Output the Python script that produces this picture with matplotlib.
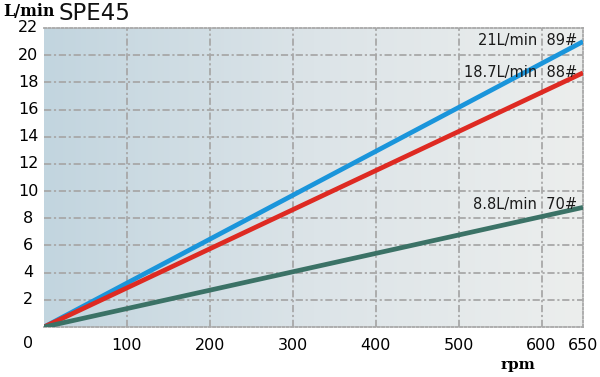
import numpy as np
import matplotlib
matplotlib.use("Agg")
import matplotlib.pyplot as plt
from matplotlib.colors import LinearSegmentedColormap

# Data
rpm = [0, 650]
flow_89 = [0, 21.0]
flow_88 = [0, 18.7]
flow_70 = [0, 8.8]
labels = ["21L/min  89#", "18.7L/min  88#", "8.8L/min  70#"]
colors = ["#1a95db", "#de2a22", "#3b7266"]
x_ticks = [100, 200, 300, 400, 500, 600, 650]
y_ticks = [2, 4, 6, 8, 10, 12, 14, 16, 18, 20, 22]

fig = plt.figure(figsize=(6, 3.77), dpi=100)
ax = fig.add_axes([44/600, 50/377, 539/600, 299/377])
ax.set_xlim(0, 650)
ax.set_ylim(0, 22)

# gradient background
cmap = LinearSegmentedColormap.from_list("bg", ["#c2d5df", "#dce4e8", "#eceeed"])
grad = np.linspace(0, 1, 256).reshape(1, -1)
ax.imshow(grad, aspect="auto", cmap=cmap, extent=[0, 650, 0, 22], zorder=0)

grid_style = dict(color="#a8a8a8", linewidth=1.3, linestyle=(0, (4, 1.5, 1.2, 1.5)), zorder=1)
for x in [100, 200, 300, 400, 500, 600]:
    ax.axvline(x, **grid_style)
for y in [2, 4, 6, 8, 10, 12, 14, 16, 18, 20]:
    ax.axhline(y, **grid_style)

for s in ax.spines.values():
    s.set_color("#a8a8a8")
    s.set_linewidth(1.3)
    s.set_linestyle((0, (1.2, 1.2)))
ax.spines["left"].set_visible(False)

for ys, c in zip([flow_89, flow_88, flow_70], colors):
    ax.plot(rpm, ys, color=c, linewidth=3.4, solid_capstyle="butt", zorder=3)

ax.tick_params(length=0)
ax.set_xticks(x_ticks)
ax.set_xticklabels([str(v) for v in x_ticks], fontsize=11.5, family="DejaVu Sans")
ax.tick_params(axis="x", pad=8)
ax.set_yticks(y_ticks)
ax.set_yticklabels([])
for v in y_ticks:
    ax.text(-16/539*650, v, str(v), ha="center", va="center", fontsize=11.5, family="DejaVu Sans")
fig.text(28/600, 1 - 343/377, "0", ha="center", va="center", fontsize=11.5, family="DejaVu Sans")

# line labels
label_y = [41, 73, 204]
for lab, yy in zip(labels, label_y):
    fig.text(577/600, 1 - yy/377, lab, ha="right", va="center", fontsize=10.5, family="DejaVu Sans",
             color="#1a1a1a")

fig.text(3/600, 1 - 11/377, "L/min", ha="left", va="center", fontsize=11.5, family="DejaVu Serif",
         weight="bold")
fig.text(58/600, 1 - 14/377, "SPE45", ha="left", va="center", fontsize=16.5, family="DejaVu Sans",
         color="#111111")
fig.text(518/600, 1 - 365/377, "rpm", ha="center", va="center", fontsize=11, family="DejaVu Serif",
         weight="bold")

fig.savefig("out.png", dpi=100)
